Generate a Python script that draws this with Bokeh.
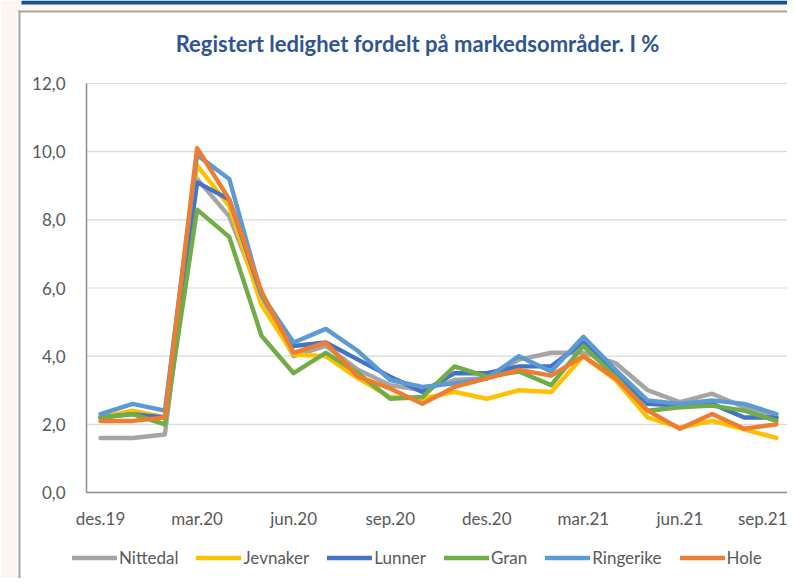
from bokeh.plotting import figure
from bokeh.models import (Range1d, FixedTicker, Legend, LegendItem, Label, BoxAnnotation)
from bokeh.embed import file_html
from bokeh.resources import INLINE

# ---- data ----
month_index = list(range(22))  # des.19 .. sep.21
tick_index = [0, 3, 6, 9, 12, 15, 18, 21]
tick_labels = ["des.19", "mar.20", "jun.20", "sep.20", "des.20", "mar.21", "jun.21", "sep.21"]
y_ticks = [0, 2, 4, 6, 8, 10, 12]
y_labels = ["0,0", "2,0", "4,0", "6,0", "8,0", "10,0", "12,0"]

nittedal = [1.6, 1.6, 1.7, 9.2, 8.1, 5.7, 4.0, 4.3, 3.6, 3.15, 3.0, 3.3, 3.35, 3.9, 4.1, 4.1, 3.8, 3.0, 2.65, 2.9, 2.5, 2.2]
jevnaker = [2.2, 2.4, 2.2, 9.6, 8.4, 5.5, 4.05, 4.0, 3.35, 2.8, 2.75, 2.95, 2.75, 3.0, 2.95, 4.0, 3.3, 2.2, 1.9, 2.1, 1.85, 1.6]
lunner = [2.2, 2.3, 2.2, 9.1, 8.6, 5.8, 4.3, 4.4, 3.9, 3.4, 2.95, 3.5, 3.5, 3.7, 3.7, 4.4, 3.5, 2.6, 2.55, 2.6, 2.2, 2.2]
gran = [2.2, 2.3, 2.0, 8.3, 7.5, 4.6, 3.5, 4.1, 3.5, 2.75, 2.8, 3.7, 3.4, 3.55, 3.15, 4.3, 3.4, 2.4, 2.5, 2.55, 2.4, 2.1]
ringerike = [2.3, 2.6, 2.4, 9.9, 9.2, 5.8, 4.4, 4.8, 4.15, 3.3, 3.1, 3.2, 3.35, 4.0, 3.55, 4.57, 3.6, 2.7, 2.6, 2.7, 2.6, 2.3]
hole = [2.1, 2.1, 2.2, 10.1, 8.6, 5.9, 4.1, 4.4, 3.4, 3.05, 2.6, 3.1, 3.35, 3.6, 3.43, 4.0, 3.35, 2.4, 1.87, 2.3, 1.87, 2.0]

series_names = ["Nittedal", "Jevnaker", "Lunner", "Gran", "Ringerike", "Hole"]
series_values = [nittedal, jevnaker, lunner, gran, ringerike, hole]
series_colors = ["#A5A5A5", "#FFC000", "#4472C4", "#70AD47", "#5B9BD5", "#ED7D31"]

FONT = "Lato"
W, H = 787, 578

# plot area geometry (pixels) -> ranges; the frame covers the whole figure,
# the axes are pinned at the plot-area edges
PX_LEFT = 86                          # plot area left
PX_Y0, PX_Y12 = 492, 83              # pixel rows of 0 and 12
CAT_W = 32.19                         # pixels per month
FIRST_CAT_PX = 100
ppu = (PX_Y0 - PX_Y12) / 12.0
x_lo = -FIRST_CAT_PX / CAT_W
x_hi = (W - FIRST_CAT_PX) / CAT_W
y_lo = -(H - PX_Y0) / ppu
y_hi = PX_Y0 / ppu
x_axis_start = (PX_LEFT - FIRST_CAT_PX) / CAT_W

def px_x(px):
    return x_lo + px / CAT_W

def px_y(py):
    return y_hi - py / ppu

p = figure(width=W, height=H, x_range=Range1d(x_lo, x_hi), y_range=Range1d(y_lo, y_hi),
           output_backend="svg", toolbar_location=None,
           min_border_left=0, min_border_right=0, min_border_top=0, min_border_bottom=0)
p.background_fill_color = "white"
p.border_fill_color = "white"
p.outline_line_color = None

# horizontal gridlines only across the plot area
p.segment(x0=[x_axis_start] * len(y_ticks), x1=[x_hi] * len(y_ticks), y0=y_ticks, y1=y_ticks,
          line_color="#D9D9D9", line_width=1.2)

renderers = []
for name, vals, col in zip(series_names, series_values, series_colors):
    r = p.line(month_index, vals, line_color=col, line_width=4.4, line_join="round", line_cap="round")
    renderers.append((name, r))

# axes
p.xaxis.ticker = FixedTicker(ticks=tick_index)
p.xaxis.major_label_overrides = {i: l for i, l in zip(tick_index, tick_labels)}
p.xaxis.fixed_location = 0
p.xaxis.bounds = (x_axis_start, x_hi)
p.yaxis.ticker = FixedTicker(ticks=y_ticks)
p.yaxis.major_label_overrides = {v: l for v, l in zip(y_ticks, y_labels)}
p.yaxis.fixed_location = x_axis_start
p.yaxis.bounds = (0, 12)
for ax in (p.xaxis, p.yaxis):
    ax.axis_line_color = "#8C8C8C"
    ax.axis_line_width = 1.5
    ax.major_tick_line_color = None
    ax.minor_tick_line_color = None
    ax.major_label_text_color = "#595959"
    ax.major_label_text_font = FONT
    ax.major_label_text_font_size = "17px"
p.xaxis.major_label_standoff = 9
p.yaxis.major_label_standoff = 15

p.xgrid.grid_line_color = None
p.ygrid.grid_line_color = None

# title
p.add_layout(Label(x=px_x(417), y=px_y(43), text="Registert ledighet fordelt på markedsområder. I %",
                   text_align="center", text_baseline="middle", text_font=FONT,
                   text_font_style="bold", text_font_size="22px", text_color="#2F5496"))

# page decoration (peach page margin, blue header bar, grey chart border)
def deco(l, r, t, b, color):
    p.add_layout(BoxAnnotation(left=px_x(l), right=px_x(r), top=px_y(t), bottom=px_y(b),
                               fill_color=color, fill_alpha=1, line_color=None))

deco(0, 18, 0, H, "#FDF6F0")
deco(18, W, 0, 11, "#FDF6F0")
deco(21, W, 0, 4, "#17508F")
deco(18, 20, 10, H, "#A6A6A6")
deco(18, W, 10, 12, "#A6A6A6")

legend = Legend(items=[LegendItem(label=n, renderers=[r]) for n, r in renderers],
                orientation="horizontal", location=(72, 10))
legend.label_text_font = FONT
legend.label_text_font_size = "17px"
legend.label_text_color = "#595959"
legend.glyph_width = 45
legend.glyph_height = 17
legend.label_standoff = 2
legend.spacing = 18
legend.padding = 0
legend.margin = 0
legend.border_line_color = None
legend.background_fill_alpha = 0
p.add_layout(legend, "center")

open("out.html", "w").write(file_html(p, INLINE))
